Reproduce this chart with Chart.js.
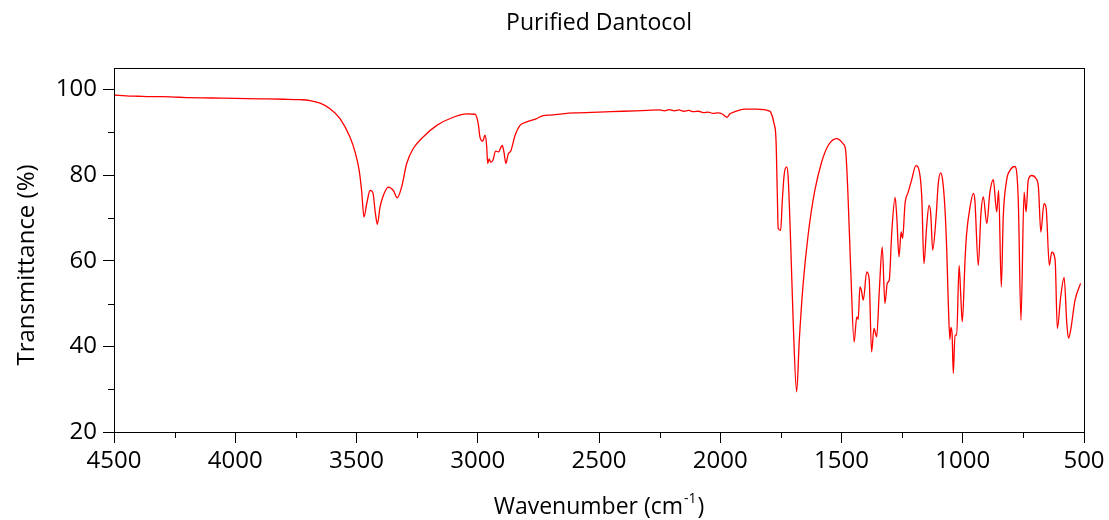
<!DOCTYPE html>
<html><head><meta charset="utf-8">
<script src="https://cdn.jsdelivr.net/npm/chart.js@4/dist/chart.umd.min.js"></script>
<style>html,body{margin:0;padding:0;background:#fff}</style>
</head><body>
<canvas id="c" width="1109" height="520"></canvas>
<script>
const chartTitle = 'Purified Dantocol';
const yTitle = 'Transmittance (%)';
const xTitleMain = 'Wavenumber (cm';
const xTitleSup = '-1';
const xTitleEnd = ')';

const xMajorTicks = [4500, 4000, 3500, 3000, 2500, 2000, 1500, 1000, 500];
const xMinorTicks = [4250, 3750, 3250, 2750, 2250, 1750, 1250, 750];
const yMajorTicks = [20, 40, 60, 80, 100];
const yMinorTicks = [30, 50, 70, 90];

const wavenumber = [
4500, 4450, 4400, 4350, 4300, 4250, 4200, 4100, 4000, 3900,
3800, 3733, 3692, 3650, 3609, 3568, 3527, 3506, 3489, 3479,
3469, 3458, 3444, 3433, 3422, 3414, 3403, 3389, 3369, 3348,
3332, 3314, 3293, 3266, 3225, 3169, 3101, 3046, 3011, 2998,
2991, 2980, 2970, 2963, 2959, 2953, 2947, 2938, 2926, 2915,
2899, 2892, 2884, 2874, 2864, 2846, 2826, 2798, 2757, 2730,
2702, 2650, 2600, 2500, 2400, 2300, 2250, 2230, 2210, 2190,
2170, 2150, 2130, 2110, 2090, 2070, 2050, 2030, 2010, 1990,
1972, 1960, 1940, 1900, 1850, 1820, 1800, 1792, 1778, 1770,
1765, 1761, 1751, 1744, 1736, 1726, 1720, 1710, 1699, 1685,
1674, 1658, 1637, 1610, 1582, 1555, 1520, 1493, 1483, 1474,
1462, 1448, 1437, 1431, 1424, 1418, 1410, 1396, 1386, 1376,
1366, 1355, 1344, 1332, 1321, 1311, 1303, 1293, 1279, 1272,
1263, 1254, 1248, 1238, 1225, 1211, 1193, 1180, 1169, 1160,
1149, 1139, 1132, 1124, 1110, 1101, 1091, 1083, 1073, 1066,
1060, 1053, 1049, 1044, 1039, 1032, 1025, 1015, 1008, 1002,
990, 984, 970, 956, 950, 936, 925, 915, 901, 888,
874, 860, 852, 841, 833, 819, 805, 785, 771, 760,
747, 739, 730, 716, 698, 688, 678, 665, 656, 643,
633, 619, 610, 596, 582, 571, 564, 555, 537, 514
];

const transmittance = [
98.7, 98.5, 98.4, 98.3, 98.3, 98.2, 98.1, 98.0, 97.9, 97.8,
97.7, 97.6, 97.4, 96.8, 95.5, 93.2, 88.9, 85.4, 81.1, 76.4,
70.2, 73.3, 76.4, 76.0, 71.0, 68.5, 72.5, 75.3, 77.2, 76.4,
74.7, 77.2, 82.7, 86.2, 88.9, 91.6, 93.5, 94.3, 94.2, 92.0,
88.9, 87.9, 89.3, 86.6, 82.7, 83.8, 83.0, 83.4, 85.6, 85.4,
86.9, 85.4, 82.7, 85.0, 85.6, 89.3, 91.6, 92.4, 93.2, 93.9,
94.0, 94.3, 94.5, 94.7, 94.9, 95.1, 95.2, 95.0, 95.3, 95.0,
95.2, 94.9, 95.1, 94.8, 94.9, 94.6, 94.7, 94.4, 94.5, 94.2,
93.5, 94.3, 94.8, 95.4, 95.4, 95.3, 95.0, 94.7, 92.0, 88.1,
76.4, 67.5, 67.1, 74.1, 80.3, 81.9, 79.5, 64.8, 45.4, 29.4,
41.5, 54.7, 66.3, 76.4, 83.0, 86.9, 88.5, 87.3, 85.8, 76.4,
58.0, 41.0, 46.9, 46.3, 53.9, 53.1, 50.8, 57.4, 55.8, 38.7,
44.2, 42.2, 53.1, 63.2, 50.0, 54.8, 55.5, 66.3, 74.8, 70.2,
60.9, 66.7, 65.2, 73.3, 76.0, 78.8, 82.2, 81.1, 74.9, 59.3,
67.9, 72.9, 71.0, 62.5, 70.2, 78.0, 80.5, 78.8, 71.8, 62.5,
50.8, 41.6, 44.4, 43.0, 33.7, 42.6, 42.6, 58.9, 51.6, 45.7,
60.9, 66.3, 72.5, 75.7, 74.1, 58.9, 71.0, 74.9, 68.7, 76.0,
78.9, 71.4, 76.4, 53.9, 70.2, 78.8, 81.1, 82.0, 74.1, 46.1,
76.0, 71.4, 78.8, 79.9, 79.2, 77.2, 66.7, 73.3, 72.2, 58.9,
62.0, 60.1, 44.2, 51.6, 56.1, 45.4, 41.9, 43.8, 50.8, 54.7
];

const points = wavenumber.map((w, i) => ({x: w, y: transmittance[i]}));
const FONT = '"Open Sans", "DejaVu Sans", sans-serif';

const decor = {
  id: 'decor',
  afterDraw(chart) {
    const ctx = chart.ctx, a = chart.chartArea;
    const xs = chart.scales.x, ys = chart.scales.y;
    ctx.save();
    ctx.strokeStyle = '#000';
    ctx.lineWidth = 1;
    ctx.strokeRect(Math.round(a.left) + 0.5, Math.round(a.top) + 0.5,
      Math.round(a.right - a.left), Math.round(a.bottom - a.top));
    ctx.beginPath();
    xMinorTicks.forEach(v => {
      const p = Math.round(xs.getPixelForValue(v)) + 0.5;
      ctx.moveTo(p, a.bottom); ctx.lineTo(p, a.bottom + 6);
    });
    yMinorTicks.forEach(v => {
      const p = Math.round(ys.getPixelForValue(v)) + 0.5;
      ctx.moveTo(a.left - 6, p); ctx.lineTo(a.left, p);
    });
    ctx.stroke();

    ctx.fillStyle = '#000';
    ctx.textBaseline = 'middle';
    ctx.textAlign = 'center';
    ctx.font = '23px ' + FONT;
    ctx.fillText(chartTitle, (a.left + a.right) / 2, 23);

    ctx.save();
    ctx.translate(27, 265);
    ctx.rotate(-Math.PI / 2);
    ctx.font = '24px ' + FONT;
    ctx.fillText(yTitle, 0, 0);
    ctx.restore();

    ctx.textAlign = 'left';
    ctx.textBaseline = 'alphabetic';
    const bigF = '23px ' + FONT, supF = '14px ' + FONT;
    ctx.font = bigF; const w1 = ctx.measureText(xTitleMain).width;
    const w3 = ctx.measureText(xTitleEnd).width;
    ctx.font = supF; const w2 = ctx.measureText(xTitleSup).width;
    let x0 = (a.left + a.right) / 2 - (w1 + w2 + w3 + 2) / 2;
    const base = 514;
    ctx.font = bigF; ctx.fillText(xTitleMain, x0, base);
    ctx.font = supF; ctx.fillText(xTitleSup, x0 + w1 + 1, base - 11);
    ctx.font = bigF; ctx.fillText(xTitleEnd, x0 + w1 + w2 + 2, base);
    ctx.restore();
  }
};

new Chart(document.getElementById('c'), {
  type: 'line',
  data: {
    datasets: [{
      data: points,
      borderColor: '#ff0000',
      borderWidth: 1.3,
      pointRadius: 0,
      fill: false,
      cubicInterpolationMode: 'monotone'
    }]
  },
  options: {
    responsive: false,
    animation: false,
    devicePixelRatio: 1,
    layout: { autoPadding: false, padding: { top: 68, right: 25, left: 0, bottom: 0 } },
    plugins: { legend: { display: false }, tooltip: { enabled: false }, title: { display: false } },
    scales: {
      x: {
        type: 'linear', reverse: true, min: 500, max: 4500,
        afterBuildTicks(s) { s.ticks = xMajorTicks.map(v => ({ value: v })); },
        ticks: { color: '#000', font: { family: FONT, size: 24 }, padding: 4, maxRotation: 0, autoSkip: false,
                 callback: v => String(v) },
        grid: { drawOnChartArea: false, drawTicks: true, tickLength: 11, color: '#000', tickColor: '#000' },
        border: { display: true, color: '#000', width: 1 },
        afterFit(s) { s.height = 88; s.paddingLeft = 0; s.paddingRight = 0; }
      },
      y: {
        min: 20, max: 105,
        afterBuildTicks(s) { s.ticks = yMajorTicks.map(v => ({ value: v })); },
        ticks: { color: '#000', font: { family: FONT, size: 24 }, padding: 6, callback: v => String(v) },
        grid: { drawOnChartArea: false, drawTicks: true, tickLength: 11, color: '#000', tickColor: '#000' },
        border: { display: true, color: '#000', width: 1 },
        afterFit(s) { s.width = 114; s.paddingTop = 0; s.paddingBottom = 0; }
      }
    }
  },
  plugins: [decor]
});
</script>
</body></html>
